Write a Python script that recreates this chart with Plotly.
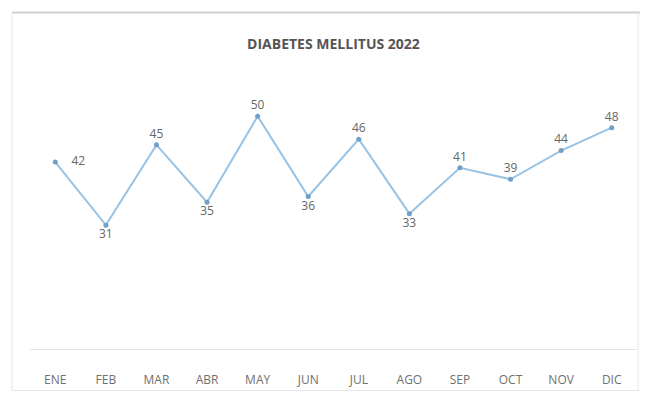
import plotly.graph_objects as go

months = ["ENE", "FEB", "MAR", "ABR", "MAY", "JUN", "JUL", "AGO", "SEP", "OCT", "NOV", "DIC"]
values = [42, 31, 45, 35, 50, 36, 46, 33, 41, 39, 44, 48]
label_pos = ["middle right", "bottom center", "top center", "bottom center", "top center",
             "bottom center", "top center", "bottom center", "top center", "top center",
             "top center", "top center"]

W, H = 645, 396
L, R, T, B = 30, 8, 60, 44
ph = H - T - B
pw = W - L - R

labels = [str(v) for v in values]
labels[0] = "\u2002\u2002" + labels[0]

fig = go.Figure()
fig.add_trace(go.Scatter(
    x=months, y=values, mode="lines+markers+text",
    text=labels, textposition=label_pos,
    textfont=dict(family="Open Sans", size=12, color="#666666"),
    line=dict(color="#97c3e6", width=2),
    marker=dict(size=5, color="#6f9ec6"),
    cliponaxis=False, hoverinfo="skip",
))

def px_x(p):
    return (p - L) / pw

def px_y(p):
    return (H - B - p) / ph

shapes = [
    dict(type="line", xref="paper", yref="paper", x0=px_x(12), x1=px_x(640), y0=px_y(12), y1=px_y(12),
         line=dict(color="#cfcfcf", width=2)),
    dict(type="line", xref="paper", yref="paper", x0=px_x(12), x1=px_x(12), y0=px_y(12), y1=px_y(394),
         line=dict(color="#e6e6e6", width=1)),
    dict(type="line", xref="paper", yref="paper", x0=px_x(638), x1=px_x(638), y0=px_y(12), y1=px_y(394),
         line=dict(color="#e6e6e6", width=1)),
    dict(type="line", xref="paper", yref="paper", x0=px_x(12), x1=px_x(640), y0=px_y(394), y1=px_y(394),
         line=dict(color="#e6e6e6", width=1)),
]

fig.update_layout(
    width=W, height=H,
    margin=dict(l=L, r=R, t=T, b=B),
    paper_bgcolor="white", plot_bgcolor="white",
    showlegend=False,
    title=dict(text="<b>DIABETES MELLITUS 2022</b>", x=0.5, xref="paper", xanchor="center",
               y=1 - 44 / H, yanchor="middle",
               font=dict(family="Open Sans", size=14, color="#555555")),
    xaxis=dict(type="category", range=[-0.5, 11.5], showgrid=False, zeroline=False,
               showline=True, linecolor="#e4e4e4", linewidth=1,
               ticks="outside", ticklen=20, tickcolor="rgba(0,0,0,0)",
               tickfont=dict(family="Open Sans", size=12, color="#6f6f6f")),
    yaxis=dict(range=[9.4, 59.8], visible=False, showgrid=False, zeroline=False),
    shapes=shapes,
)

fig.write_html("out.html")
